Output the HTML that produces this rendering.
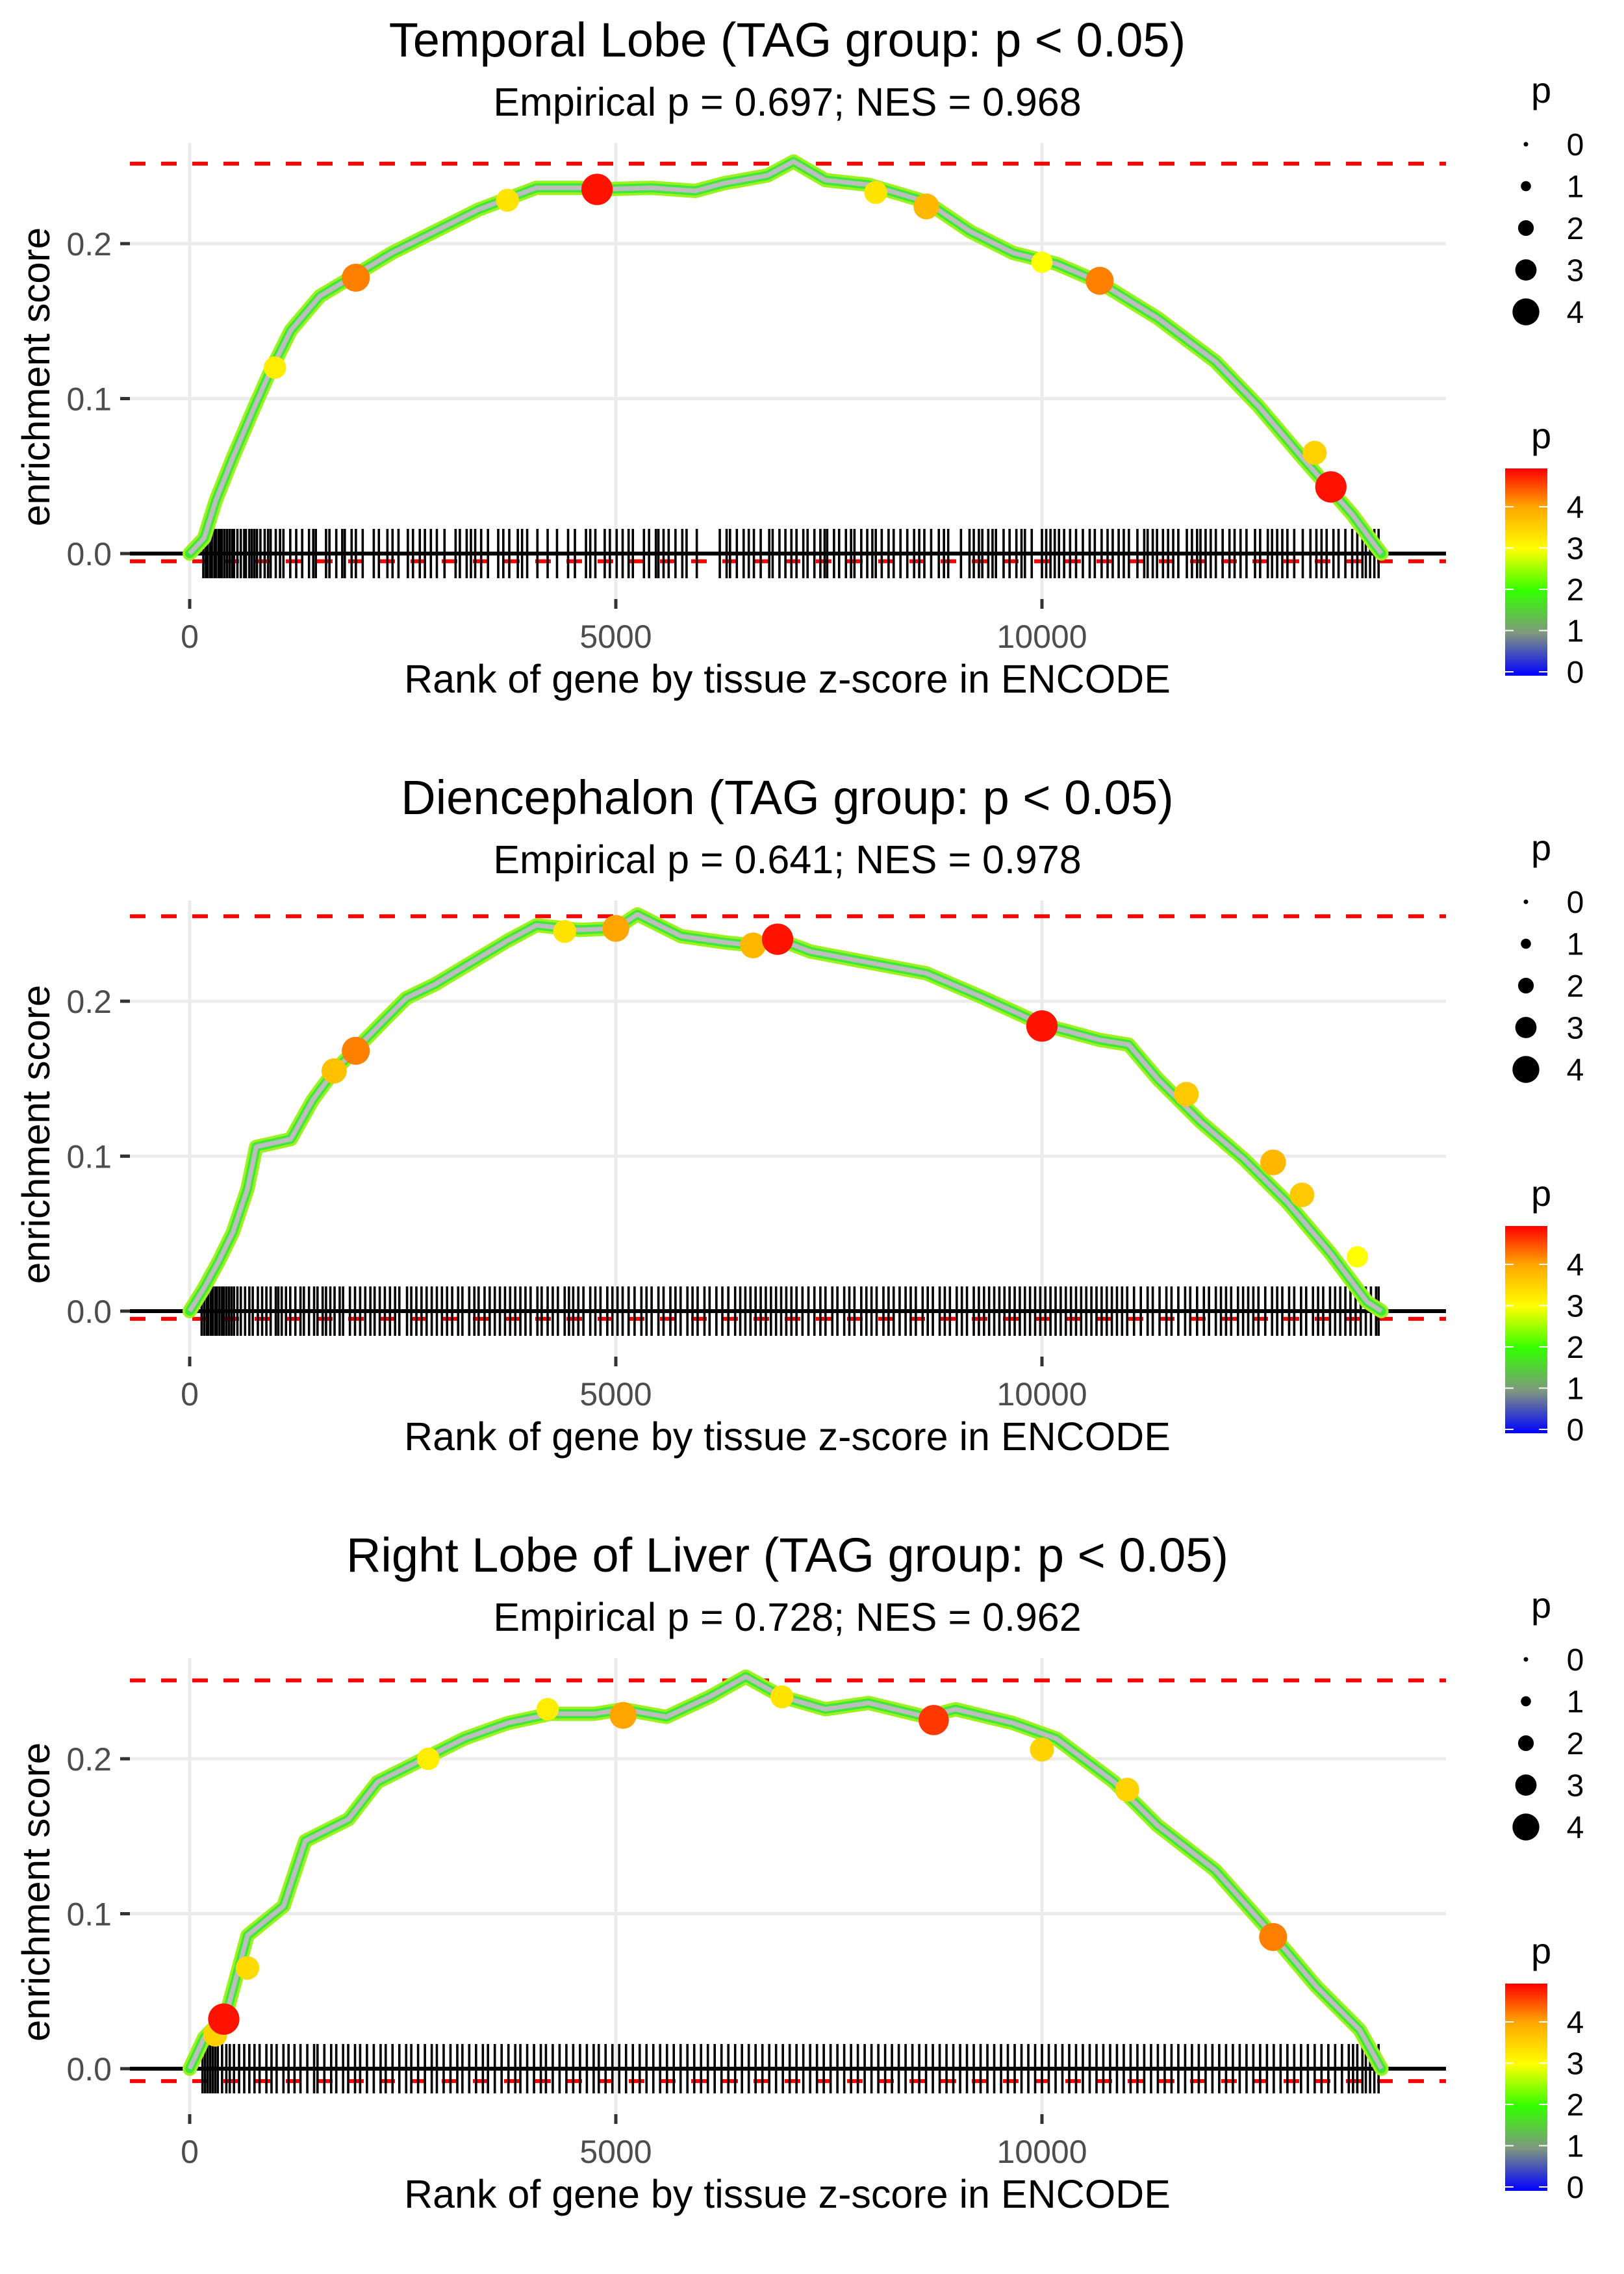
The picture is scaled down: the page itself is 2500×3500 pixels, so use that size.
<!DOCTYPE html>
<html><head><meta charset="utf-8">
<style>
html,body{margin:0;padding:0;background:#fff;}
svg{display:block;font-family:"Liberation Sans",sans-serif;}
</style></head>
<body>
<svg id="fig" width="2500" height="3500" viewBox="0 0 2500 3500" xmlns="http://www.w3.org/2000/svg"></svg>
<script>
// ---------- data ----------
const panelTitles = ["Temporal Lobe (TAG group: p < 0.05)","Diencephalon (TAG group: p < 0.05)","Right Lobe of Liver (TAG group: p < 0.05)"];
const panelSubtitles = ["Empirical p = 0.697; NES = 0.968","Empirical p = 0.641; NES = 0.978","Empirical p = 0.728; NES = 0.962"];
const xTicks = [0,5000,10000];
const yTicks = [0.0,0.1,0.2];
const yTickLabels = ["0.0","0.1","0.2"];
const esMax = [0.2516,0.2548,0.2506];
const esMin = [-0.005,-0.005,-0.008];

const rank1 = [0,170,305,508,763,932,1186,1525,1949,2373,2881,3390,4068,4576,4780,5424,5932,6271,6780,7085,7458,7966,8644,9153,9661,10169,10678,11356,12034,12542,13051,13356,13644,13898,13983];
const es1   = [0,0.01,0.034,0.062,0.095,0.116,0.144,0.166,0.18,0.194,0.208,0.222,0.236,0.236,0.235,0.236,0.234,0.239,0.244,0.253,0.241,0.238,0.227,0.208,0.194,0.187,0.175,0.152,0.124,0.095,0.062,0.043,0.025,0.006,0];
const rank2 = [0,170,339,508,678,780,1186,1441,1695,1949,2288,2542,2881,3305,3729,4068,4576,5000,5254,5763,6271,6610,6898,7288,7966,8644,9322,10000,10678,11017,11356,11864,12373,12881,13390,13814,13983];
const es2   = [0,0.015,0.032,0.051,0.079,0.106,0.111,0.136,0.155,0.169,0.188,0.202,0.211,0.225,0.239,0.249,0.246,0.247,0.256,0.242,0.238,0.236,0.240,0.232,0.225,0.218,0.202,0.185,0.175,0.172,0.150,0.122,0.098,0.070,0.037,0.006,0];
const rank3 = [0,170,424,678,1102,1356,1864,2203,2712,3220,3729,4237,4746,5085,5593,6102,6525,6949,7458,7966,8644,8983,9661,10169,10847,11356,12034,12712,13220,13729,13983];
const es3   = [0,0.02,0.034,0.086,0.105,0.147,0.161,0.185,0.199,0.213,0.223,0.229,0.229,0.232,0.227,0.240,0.253,0.240,0.232,0.236,0.227,0.232,0.223,0.213,0.185,0.157,0.128,0.086,0.053,0.025,0];

const hiRank1 = [1000,1949,3729,4780,8050,8644,10000,10678,13200,13390];
const hiEs1   = [0.12,0.178,0.228,0.235,0.233,0.224,0.188,0.176,0.065,0.043];
const hiP1    = [3.2,4.2,3.3,4.8,3.3,3.8,3.0,4.2,3.5,4.8];
const hiRank2 = [1695,1949,4400,5000,6610,6898,10000,11695,12712,13051,13700];
const hiEs2   = [0.155,0.168,0.245,0.247,0.236,0.240,0.184,0.140,0.096,0.075,0.035];
const hiP2    = [3.7,4.2,3.3,4.0,3.8,4.8,4.8,3.6,3.8,3.6,3.0];
const hiRank3 = [300,400,678,2800,4200,5085,6949,8730,10000,11000,12712];
const hiEs3   = [0.022,0.032,0.065,0.2,0.232,0.228,0.24,0.225,0.206,0.18,0.085];
const hiP3    = [3.5,4.8,3.4,3.2,3.2,4.0,3.3,4.6,3.5,3.5,4.2];

const hits1 = [160,190,210,240,260,290,310,340,360,380,410,440,470,500,520,560,600,640,660,700,730,760,790,830,880,920,950,1010,1060,1100,1180,1250,1320,1400,1450,1480,1600,1640,1720,1790,1820,1900,1950,2030,2160,2220,2320,2380,2450,2560,2620,2700,2760,2830,2900,2990,3120,3170,3250,3300,3350,3420,3500,3620,3680,3750,3850,3900,3960,4080,4200,4310,4440,4520,4650,4700,4760,4870,4930,5010,5080,5150,5200,5330,5390,5470,5500,5560,5620,5700,5780,5830,5950,6220,6300,6340,6420,6500,6560,6620,6700,6800,6840,6920,6990,7060,7120,7200,7250,7330,7400,7450,7480,7560,7620,7700,7760,7800,7880,7950,8010,8050,8120,8200,8260,8340,8420,8500,8560,8620,8700,8790,8850,8900,9050,9150,9200,9260,9300,9370,9420,9460,9550,9620,9700,9760,9800,9880,10000,10050,10100,10150,10200,10260,10330,10400,10480,10560,10620,10700,10770,10830,10900,10960,11020,11120,11200,11240,11300,11350,11420,11480,11540,11600,11700,11760,11820,11860,11920,11980,12040,12120,12200,12260,12330,12400,12500,12560,12650,12700,12760,12820,12880,12960,13060,13150,13220,13280,13340,13420,13480,13560,13640,13700,13760,13800,13850,13900,13950];
const hits2 = [140,170,200,220,250,270,300,320,350,380,400,430,460,490,520,560,600,650,700,740,800,850,900,950,1010,1040,1080,1130,1180,1240,1300,1340,1400,1460,1500,1560,1600,1650,1700,1760,1800,1880,1940,2000,2060,2120,2170,2230,2290,2350,2410,2460,2550,2600,2660,2720,2780,2840,2900,2960,3020,3080,3150,3200,3280,3340,3390,3460,3520,3580,3640,3700,3760,3820,3880,3940,4000,4080,4130,4200,4260,4320,4400,4450,4500,4560,4620,4700,4760,4820,4900,4960,5020,5080,5150,5220,5300,5360,5420,5500,5560,5640,5700,5760,5840,5900,5960,6040,6100,6180,6250,6320,6400,6460,6520,6580,6640,6700,6760,6820,6880,6940,7000,7060,7120,7190,7260,7330,7400,7460,7540,7600,7680,7740,7800,7880,7940,8000,8060,8140,8200,8260,8330,8400,8460,8520,8600,8660,8720,8800,8860,8920,9000,9060,9120,9200,9260,9320,9380,9440,9500,9560,9620,9680,9740,9800,9860,9920,9980,10040,10100,10160,10220,10280,10340,10400,10460,10520,10580,10640,10700,10760,10820,10880,10940,11000,11080,11160,11240,11300,11380,11460,11520,11600,11680,11740,11820,11900,11960,12040,12100,12160,12220,12300,12360,12420,12480,12540,12620,12700,12760,12820,12900,12960,13040,13100,13180,13240,13300,13380,13440,13500,13560,13620,13680,13740,13800,13860,13920,13950];
const hits3 = [150,180,210,240,270,300,330,380,430,470,520,580,640,700,760,820,900,960,1020,1100,1160,1230,1300,1380,1460,1500,1580,1660,1720,1800,1860,1940,2000,2080,2160,2240,2300,2380,2460,2540,2600,2680,2760,2840,2900,2980,3060,3140,3200,3280,3360,3440,3500,3580,3660,3740,3820,3880,3960,4040,4120,4180,4260,4340,4420,4500,4580,4660,4740,4800,4880,4960,5040,5120,5200,5280,5360,5440,5520,5600,5680,5760,5840,5920,6000,6080,6160,6240,6320,6400,6480,6560,6640,6720,6800,6880,6960,7040,7120,7200,7280,7360,7440,7520,7600,7680,7760,7840,7920,8000,8080,8160,8240,8320,8400,8480,8560,8640,8720,8800,8880,8960,9040,9120,9200,9280,9360,9440,9520,9600,9680,9760,9840,9920,10000,10080,10160,10240,10320,10400,10480,10560,10640,10720,10800,10880,10960,11040,11120,11200,11280,11360,11440,11520,11600,11680,11760,11840,11920,12000,12080,12160,12240,12320,12400,12480,12560,12640,12720,12800,12880,12960,13040,13120,13200,13280,13360,13440,13520,13600,13650,13700,13760,13800,13850,13900,13950];

const sizeLegendValues = [0,1,2,3,4];
const colorLegendValues = [0,1,2,3,4];

const ranks=[rank1,rank2,rank3], ess=[es1,es2,es3];
const hiRanks=[hiRank1,hiRank2,hiRank3], hiEss=[hiEs1,hiEs2,hiEs3], hiPs=[hiP1,hiP2,hiP3];
const hits=[hits1,hits2,hits3];

// ---------- helpers ----------
const NS="http://www.w3.org/2000/svg";
const svg=document.getElementById('fig');
function mk(tag, attrs, parent){const e=document.createElementNS(NS,tag);for(const k in attrs)e.setAttribute(k,attrs[k]);(parent||svg).appendChild(e);return e;}
const X0=292, XS=656/5000;
function xScale(r){return X0+r*XS;}
const PANEL_STEP=1166, ZERO0=852, YS=2385;
function yScale(v,i){return ZERO0+i*PANEL_STEP - v*YS;}
function pSize(p){return 3.5+p*4.3;}
function pColor(p){
  const stops=[[0,[0,0,255]],[1,[128,150,128]],[2,[51,255,0]],[3,[255,255,0]],[4,[255,165,0]],[4.9,[255,0,0]]];
  for(let k=0;k<stops.length-1;k++){const a=stops[k],b=stops[k+1];if(p<=b[0]){const t=(p-a[0])/(b[0]-a[0]);const c=a[1].map((v,j)=>Math.round(v+(b[1][j]-v)*Math.max(0,t)));return 'rgb('+c.join(',')+')';}}
  return 'rgb(255,0,0)';
}
const TCX=1212;

for(let i=0;i<3;i++){
  const g=mk('g',{});
  
  
  const zero=yScale(0,i), top=zero-632, bot=zero+70;
  const t=mk('text',{x:TCX,y:ZERO0+i*PANEL_STEP-765,'font-size':74,'text-anchor':'middle',fill:'#000'},g);
  t.textContent=panelTitles[i];
  
  
  const s=mk('text',{x:TCX,y:ZERO0+i*PANEL_STEP-674,'font-size':61,'text-anchor':'middle',fill:'#000'},g);
  s.textContent=panelSubtitles[i];
  
  
  yTicks.forEach((v,k)=>{
    const l=mk('line',{x1:200,x2:2226,y1:yScale(v,i),y2:yScale(v,i),stroke:'#ebebeb','stroke-width':5},g);
    
    
    const tk=mk('line',{x1:185,x2:200,y1:yScale(v,i),y2:yScale(v,i),stroke:'#333','stroke-width':5},g);
    
    
    const tl=mk('text',{x:172,y:yScale(v,i)+18,'font-size':50,'text-anchor':'end',fill:'#4d4d4d'},g);
    tl.textContent=yTickLabels[k];
    
    
  });
  xTicks.forEach(v=>{
    const l=mk('line',{x1:xScale(v),x2:xScale(v),y1:top,y2:bot,stroke:'#ebebeb','stroke-width':5},g);
    
    
    const tk=mk('line',{x1:xScale(v),x2:xScale(v),y1:bot,y2:bot+15,stroke:'#333','stroke-width':5},g);
    
    
    const tl=mk('text',{x:xScale(v),y:zero+145,'font-size':50,'text-anchor':'middle',fill:'#4d4d4d'},g);
    tl.textContent=String(v);
    
    
  });
  [esMax[i],esMin[i]].forEach(v=>{
    const l=mk('line',{x1:200,x2:2226,y1:yScale(v,i),y2:yScale(v,i),stroke:'#ff0000','stroke-width':6,'stroke-dasharray':'24 24'},g);
    
    
  });
  const rg=mk('g',{},g);
  
  
  hits[i].forEach(r=>{
    const l=mk('line',{x1:xScale(r),x2:xScale(r),y1:zero-38,y2:zero+38,stroke:'#000','stroke-width':3.6},rg);
    
    
  });
  const zl=mk('line',{x1:200,x2:2226,y1:zero,y2:zero,stroke:'#000','stroke-width':6},g);
  
  
  const pts=ranks[i].map((r,k)=>xScale(r).toFixed(1)+','+yScale(ess[i][k],i).toFixed(1)).join(' ');
  const c1=mk('polyline',{points:pts,fill:'none',stroke:'#9cf21c','stroke-width':22,'stroke-linejoin':'round','stroke-linecap':'round'},g);
  
  
  const c2=mk('polyline',{points:pts,fill:'none',stroke:'#3ee83a','stroke-width':14,'stroke-linejoin':'round','stroke-linecap':'round'},g);
  
  
  const c3=mk('polyline',{points:pts,fill:'none',stroke:'#bdbdbd','stroke-width':7,'stroke-linejoin':'round'},g);
  
  
  hiRanks[i].forEach((r,k)=>{
    const p=hiPs[i][k];
    const c=mk('circle',{cx:xScale(r),cy:yScale(hiEss[i][k],i),r:pSize(p),fill:pColor(p)},g);
    
    
  });
  const yt=mk('text',{x:0,y:0,'font-size':60,'text-anchor':'middle',fill:'#000',transform:'translate(76,'+(zero-272)+') rotate(-90)'},g);
  yt.textContent='enrichment score';
  
  
  const xt=mk('text',{x:TCX,y:zero+214,'font-size':61,'text-anchor':'middle',fill:'#000'},g);
  xt.textContent='Rank of gene by tissue z-score in ENCODE';
  
  

  const off=i*PANEL_STEP;
  const lg=mk('g',{},g);
  
  
  const lt=mk('text',{x:2357,y:158+off,'font-size':56,fill:'#000'},lg);
  lt.textContent='p';
  
  
  sizeLegendValues.forEach((v,k)=>{
    const cy=222+k*64.5+off;
    const c=mk('circle',{cx:2349,cy:cy,r:pSize(v),fill:'#000'},lg);
    
    
    const tx=mk('text',{x:2425,y:cy+17,'font-size':48,'text-anchor':'middle',fill:'#000'},lg);
    tx.textContent=String(v);
    
    
  });
  const cg=mk('g',{},g);
  
  
  const ct=mk('text',{x:2357,y:690+off,'font-size':56,fill:'#000'},cg);
  ct.textContent='p';
  
  
  const gid='grad'+i;
  const defs=mk('defs',{},cg);
  const lgd=mk('linearGradient',{id:gid,x1:0,y1:1,x2:0,y2:0},defs);
  [0,1,2,3,4,4.9].forEach(v=>{mk('stop',{offset:(v/4.9).toFixed(3),'stop-color':pColor(v)},lgd);});
  const barTop=721+off, barBot=1040+off;
  const bar=mk('rect',{x:2317,y:barTop,width:65,height:barBot-barTop,fill:'url(#'+gid+')'},cg);
  
  
  colorLegendValues.forEach(v=>{
    const y=barBot-6-v*63.5;
    mk('line',{x1:2317,x2:2330,y1:y,y2:y,stroke:'#fff','stroke-width':2},cg);
    mk('line',{x1:2369,x2:2382,y1:y,y2:y,stroke:'#fff','stroke-width':2},cg);
    const tx=mk('text',{x:2425,y:y+17,'font-size':48,'text-anchor':'middle',fill:'#000'},cg);
    tx.textContent=String(v);
    
    
  });
}
</script>
</body></html>
